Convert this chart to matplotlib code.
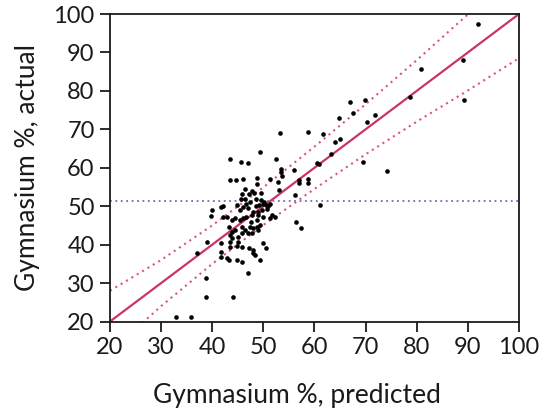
import matplotlib
matplotlib.use("Agg")
import matplotlib.pyplot as plt

plt.rcParams['font.family'] = ['Lato', 'DejaVu Sans']

# scatter data (predicted %, actual %)
predicted = [92.0, 89.0, 89.3, 80.8, 78.7, 74.1, 71.9, 70.2, 69.9, 67.5, 67.0, 64.8,
             65.0, 64.0, 63.3, 61.6, 58.7, 53.3, 49.4, 69.5, 60.4, 60.8, 55.9, 53.4,
             53.4, 53.6, 52.5, 51.3, 48.7, 48.7, 52.8, 56.9, 56.9, 58.8, 58.8, 56.2,
             53.1,
             43.5, 45.6, 46.9, 43.5, 44.7, 46.0, 46.5, 47.7, 47.1, 48.2, 45.8, 45.7,
             49.5,
             48.6, 49.2, 50.0, 50.5, 51.0, 51.3, 50.7, 49.7, 49.0, 47.4, 46.7, 46.1,
             45.4, 44.8,
             42.2, 41.8, 40.0, 39.8, 42.2, 42.8, 43.8, 44.5, 45.4, 46.1, 46.7, 47.7,
             48.7, 49.0, 49.9, 51.3, 52.3, 51.6,
             43.2, 43.8, 44.5, 45.8, 46.4, 47.4, 48.0, 48.7, 49.3, 43.5, 45.1, 45.8,
             46.9, 48.9, 47.7,
             56.4, 57.3, 61.0,
             43.8, 45.1, 43.5, 41.8, 43.5, 44.8, 45.8, 47.1, 48.0, 50.0, 50.5, 48.4,
             47.9, 41.8, 41.8, 42.8, 43.2, 44.8, 45.8, 49.3, 46.9,
             38.9, 37.1, 38.8, 38.8, 44.1, 33.0, 35.9,
             47.0, 48.0, 47.5, 49.5, 50.2, 46.5, 48.5]
actual = [97.4, 88.0, 77.5, 85.8, 78.5, 59.2, 73.7, 71.8, 77.6, 74.3, 77.2, 73.0,
          67.4, 66.8, 63.5, 68.7, 69.4, 69.0, 64.0, 61.6, 61.3, 61.1, 59.4, 59.8,
          58.9, 57.8, 62.3, 57.2, 57.4, 55.9, 56.4, 56.9, 56.1, 57.2, 56.1, 52.9,
          54.2,
          62.3, 61.6, 61.3, 56.7, 56.7, 57.1, 54.6, 54.0, 53.3, 53.5, 53.2, 51.8,
          53.5,
          50.1, 50.3, 50.5, 50.3, 50.0, 50.5, 49.4, 49.0, 48.6, 51.2, 50.7, 49.7,
          49.0, 50.3,
          50.0, 49.7, 49.0, 47.5, 47.3, 47.1, 46.4, 46.8, 46.4, 46.8, 47.3, 47.7,
          46.4, 47.7, 47.3, 46.8, 47.1, 47.7,
          44.7, 43.4, 43.8, 44.7, 43.8, 44.7, 44.2, 44.7, 45.1, 42.5, 42.1, 42.9,
          43.1, 43.8, 43.1,
          46.0, 44.2, 50.3,
          41.6, 40.8, 40.8, 40.3, 39.5, 39.6, 39.5, 39.0, 38.6, 40.3, 39.0, 37.3,
          37.9, 38.2, 36.9, 36.4, 36.0, 36.0, 35.6, 36.0, 32.5,
          40.8, 37.7, 31.2, 26.4, 26.3, 21.1, 21.1,
          49.5, 48.5, 46.0, 51.5, 51.0, 52.0, 52.0]

# fit line and confidence band
fit_x = [20, 100]
fit_y = [20, 100]
band_x = [20, 30, 40, 50, 60, 70, 80, 90, 100]
band_upper = [28.0, 36.0, 45.0, 54.9, 65.5, 76.5, 88.0, 99.9, 111.5]
band_lower = [12.0, 24.0, 35.0, 45.1, 54.5, 63.5, 72.0, 80.1, 88.5]
mean_actual = 51.3

ticks = [20, 30, 40, 50, 60, 70, 80, 90, 100]

fig = plt.figure(figsize=(5.41, 4.17), dpi=100)
ax = fig.add_axes([0.2033, 0.229, 0.756, 0.7374])

line_col = '#cc3366'
ax.axhline(mean_actual, color='#6a6ad0', linestyle=(0, (1, 2)), linewidth=1.3, zorder=1)
ax.plot(band_x, band_upper, color='#d9557f', linestyle=(0, (1, 2)), linewidth=1.5, zorder=2)
ax.plot(band_x, band_lower, color='#d9557f', linestyle=(0, (1, 2)), linewidth=1.5, zorder=2)
ax.plot(fit_x, fit_y, color=line_col, linewidth=1.6, zorder=2)
ax.scatter(predicted, actual, s=11, color='black', zorder=3, linewidths=0)

ax.set_xlim(20, 100)
ax.set_ylim(20, 100)
ax.set_xticks(ticks)
ax.set_yticks(ticks)
ax.tick_params(direction='out', length=7, width=1.3, labelsize=17, pad=4,
               colors='#1a1a1a')
for s in ax.spines.values():
    s.set_linewidth(1.3)
    s.set_color('#1a1a1a')

ax.set_xlabel('Gymnasium %, predicted', fontsize=19, color='#1a1a1a')
ax.set_ylabel('Gymnasium %, actual', fontsize=19, labelpad=10, color='#1a1a1a')
# the x label sits a little left of the axes centre in the reference
ax.xaxis.set_label_coords(0.457, -0.2)

fig.savefig('out.png', dpi=100)
